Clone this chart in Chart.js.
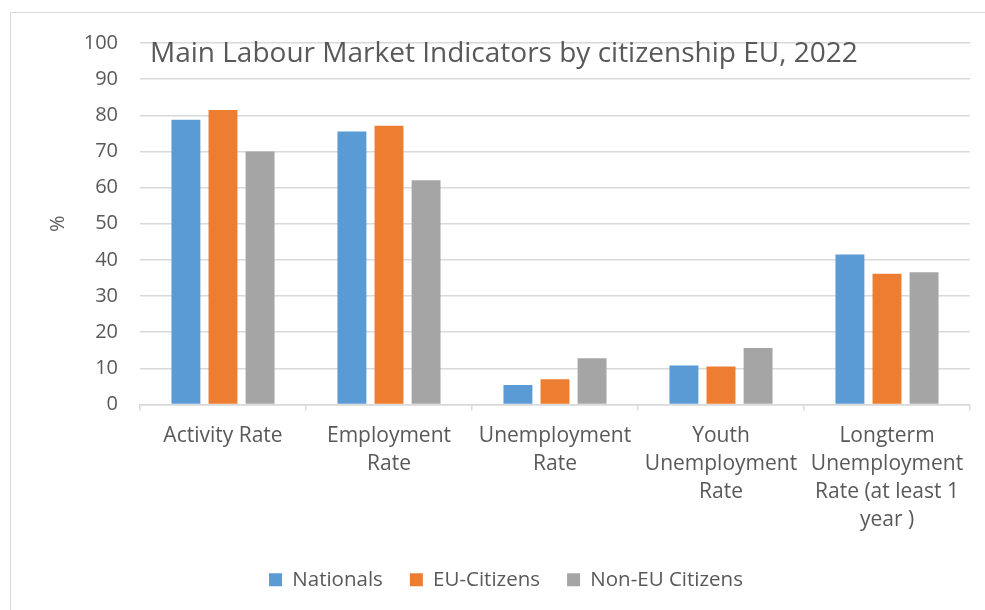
<!DOCTYPE html>
<html>
<head>
<meta charset="utf-8">
<script src="https://cdn.jsdelivr.net/npm/chart.js@4.4.0/dist/chart.umd.min.js"></script>
<style>
  body { margin: 0; background: #fff; }
  #wrap { position: relative; width: 985px; height: 610px; overflow: hidden; }
  #frame { position: absolute; left: 10px; top: 12px; width: 1000px; height: 620px; border: 1px solid #d9d9d9; }
  #titulo { position: absolute; left: 150px; top: 32px; font: 28px "Open Sans", sans-serif; color: #595959; white-space: nowrap; }
  canvas { position: absolute; left: 0; top: 0; }
</style>
</head>
<body>
<div id="wrap">
  <div id="frame"></div>
  <canvas id="grafico" width="985" height="610"></canvas>
  <div id="titulo">Main Labour Market Indicators by citizenship EU, 2022</div>
</div>
<script>
// dados

const categorias = [
    'Activity Rate',
    ['Employment', 'Rate'],
    ['Unemployment', 'Rate'],
    ['Youth', 'Unemployment', 'Rate'],
    ['Longterm', 'Unemployment', 'Rate (at least 1', 'year )']
]
const nacionais = [78.8, 75.5, 5.4, 10.8, 41.5]
const cidadaosUE = [81.5, 77.1, 7.0, 10.5, 36.2]
const naoUE = [70.0, 62.0, 12.8, 15.6, 36.6]

const corTexto = '#595959'
const fonte = '"Open Sans", sans-serif'

Chart.defaults.font.family = fonte
Chart.defaults.color = corTexto

// empurra a legenda um pouco pra direita
const moveLegenda = {
    id: 'moveLegenda',
    beforeDraw(chart) {
        chart.legend.left += 16
        chart.legend.right += 16
    }
}

var ctx = document.getElementById('grafico')

myChart = new Chart(ctx, {
    type: 'bar',
    data: {
        labels: categorias,
        datasets: [
            { label: 'Nationals', data: nacionais, backgroundColor: '#5b9bd5' },
            { label: 'EU-Citizens', data: cidadaosUE, backgroundColor: '#ed7d31' },
            { label: 'Non-EU Citizens', data: naoUE, backgroundColor: '#a5a5a5' }
        ]
    },
    plugins: [moveLegenda],
    options: {
        responsive: false,
        animation: false,
        categoryPercentage: 0.67,
        barPercentage: 0.78,
        layout: { padding: { left: 10, right: 15, top: 43, bottom: 10 } },
        plugins: {
            tooltip: { enabled: false },
            legend: {
                position: 'bottom',
                labels: {
                    font: { size: 20.5 },
                    boxWidth: 13,
                    boxHeight: 13,
                    padding: 27
                }
            }
        },
        scales: {
            x: {
                grid: { display: true, drawOnChartArea: false, offset: true, tickLength: 6, color: '#d9d9d9', lineWidth: 1.5 },
                border: { display: true, color: '#d9d9d9', width: 1.5 },
                ticks: { font: { size: 21, lineHeight: 1.333 }, padding: 12, maxRotation: 0, autoSkip: false },
                afterFit: s => { s.height = 138 }
            },
            y: {
                min: 0,
                max: 100,
                ticks: { stepSize: 10, font: { size: 20 }, padding: 22 },
                grid: { color: '#d9d9d9', lineWidth: 1.5, drawTicks: false },
                border: { display: false },
                title: { display: true, text: '%', font: { size: 20 }, padding: { top: 36, bottom: 0 } },
                afterFit: s => { s.width = 130 }
            }
        }
    }
})
</script>
</body>
</html>
